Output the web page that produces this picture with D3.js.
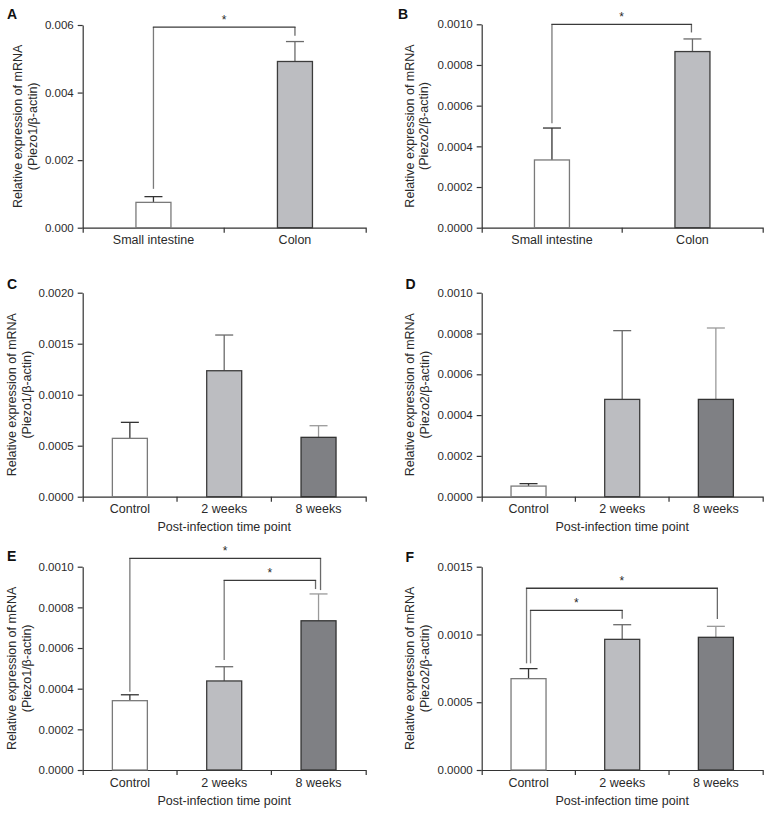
<!DOCTYPE html>
<html>
<head>
<meta charset="utf-8">
<script src="https://cdn.jsdelivr.net/npm/d3@7"></script>
<style>
  html, body { margin: 0; padding: 0; background: #fff; }
  svg { display: block; }
  text { font-family: "Liberation Sans", Arial, Helvetica, sans-serif; fill: #2a2a2a; }
</style>
</head>
<body>
<svg id="chart" width="770" height="816"></svg>
<script>
// ---------- DATA ----------
const tissueCategories = ["Small intestine", "Colon"];
const timeCategories = ["Control", "2 weeks", "8 weeks"];

const meanA = [0.00075, 0.00492];
const semA  = [0.00017, 0.00059];
const meanB = [0.000333, 0.000866];
const semB  = [0.000157, 0.000062];
const meanC = [0.000572, 0.001235, 0.000582];
const semC  = [0.000157, 0.00035, 0.000114];
const meanD = [0.000052, 0.000477, 0.000477];
const semD  = [0.000012, 0.000337, 0.00035];
const meanE = [0.000341, 0.000438, 0.000734];
const semE  = [0.000029, 0.00007, 0.000132];
const meanF = [0.000674, 0.000964, 0.000979];
const semF  = [0.000074, 0.000108, 0.000081];

const ticksA = [0, 0.002, 0.004, 0.006];
const ticksB = [0, 0.0002, 0.0004, 0.0006, 0.0008, 0.0010];
const ticksC = [0, 0.0005, 0.0010, 0.0015, 0.0020];
const ticksD = [0, 0.0002, 0.0004, 0.0006, 0.0008, 0.0010];
const ticksE = [0, 0.0002, 0.0004, 0.0006, 0.0008, 0.0010];
const ticksF = [0, 0.0005, 0.0010, 0.0015];

const formatA = ".3f";
const formatOther = ".4f";

const yTitlePiezo1 = ["Relative expression of mRNA", "(Piezo1/β-actin)"];
const yTitlePiezo2 = ["Relative expression of mRNA", "(Piezo2/β-actin)"];
const xTitleTime = "Post-infection time point";

// significance brackets: from/to category index, y = bracket level, yFrom/yTo = leg ends (data units)
const bracketsA = [{ from: 0, to: 1, y: 0.00594, yFrom: 0.00115, yTo: 0.00568 }];
const bracketsB = [{ from: 0, to: 1, y: 0.00100, yFrom: 0.000513, yTo: 0.00096 }];
const bracketsE = [
  { from: 0, to: 2, y: 0.001041, yFrom: 0.000385, yTo: 0.000885 },
  { from: 1, to: 2, y: 0.000933, yFrom: 0.000541, yTo: 0.00089 }
];
const bracketsF = [
  { from: 0, to: 2, y: 0.001341, yFrom: 0.000787, yTo: 0.001114 },
  { from: 0, to: 1, y: 0.001178, yFrom: 0.000787, yTo: 0.001116 }
];

// ---------- STYLE / LAYOUT ----------
const fills = ["#ffffff", "#bcbdc1", "#7f8084"];
const barStrokes = ["#7a7a7a", "#3c3c3c", "#333333"];
const errStrokes = ["#333333", "#6a6a6a", "#9a9a9a"];

const panels = [
  { letter: "A", lx: 7, ly: 19, left: 82.7, right: 365.7, top: 25, bottom: 227.7,
    cats: tissueCategories, mean: meanA, sem: semA, ticks: ticksA, fmt: formatA,
    ytitle: yTitlePiezo1, titleOff: 46, xtitle: null, brackets: bracketsA,
    legDx: [[0, 0]] },
  { letter: "B", lx: 398, ly: 18.5, left: 481.7, right: 762.7, top: 24.3, bottom: 227.7,
    cats: tissueCategories, mean: meanB, sem: semB, ticks: ticksB, fmt: formatOther,
    ytitle: yTitlePiezo2, titleOff: 53.5, xtitle: null, brackets: bracketsB,
    legDx: [[0, -1]] },
  { letter: "C", lx: 7, ly: 288.5, left: 82.7, right: 365.7, top: 292.7, bottom: 496.7,
    cats: timeCategories, mean: meanC, sem: semC, ticks: ticksC, fmt: formatOther,
    ytitle: yTitlePiezo1, titleOff: 52, xtitle: xTitleTime, brackets: [], legDx: [] },
  { letter: "D", lx: 405.5, ly: 288.5, left: 481.7, right: 762.7, top: 292.7, bottom: 496.7,
    cats: timeCategories, mean: meanD, sem: semD, ticks: ticksD, fmt: formatOther,
    ytitle: yTitlePiezo2, titleOff: 53, xtitle: xTitleTime, brackets: [], legDx: [] },
  { letter: "E", lx: 7, ly: 561, left: 82.7, right: 365.7, top: 566.7, bottom: 770,
    cats: timeCategories, mean: meanE, sem: semE, ticks: ticksE, fmt: formatOther,
    ytitle: yTitlePiezo1, titleOff: 52, xtitle: xTitleTime, brackets: bracketsE,
    legDx: [[0, 2], [0, -3]] },
  { letter: "F", lx: 405.5, ly: 561.5, left: 481.7, right: 762.7, top: 566.7, bottom: 770,
    cats: timeCategories, mean: meanF, sem: semF, ticks: ticksF, fmt: formatOther,
    ytitle: yTitlePiezo2, titleOff: 53, xtitle: xTitleTime, brackets: bracketsF,
    legDx: [[-2, 1.5], [2, 0]] }
];

const BAR_W = 35;
const CAP_W = 18;
const AXIS_COLOR = "#333";

const svg = d3.select("#chart");
svg.append("rect").attr("width", 770).attr("height", 816).attr("fill", "#fff");

panels.forEach(p => {
  const g = svg.append("g");
  const x = d3.scaleBand().domain(p.cats).range([p.left, p.right]).paddingInner(0).paddingOuter(0);
  const y = d3.scaleLinear().domain([0, d3.max(p.ticks)]).range([p.bottom, p.top]);
  const cx = c => x(c) + x.bandwidth() / 2;

  // panel letter
  g.append("text").attr("x", p.lx).attr("y", p.ly)
    .attr("font-size", 14).attr("font-weight", "bold").attr("fill", "#111")
    .style("fill", "#111").text(p.letter);

  // y axis
  const yAxis = g.append("g").attr("transform", `translate(${p.left},0)`)
    .call(d3.axisLeft(y).tickValues(p.ticks).tickFormat(d3.format(p.fmt))
      .tickSize(5).tickSizeOuter(0).tickPadding(4));
  yAxis.select(".domain").attr("stroke", AXIS_COLOR).attr("stroke-width", 1.2);
  yAxis.selectAll(".tick line").attr("stroke", AXIS_COLOR).attr("stroke-width", 1.2);
  yAxis.selectAll(".tick text").attr("font-size", 11.5).attr("font-family", null).style("fill", "#2a2a2a");

  // x axis
  const xAxis = g.append("g").attr("transform", `translate(0,${p.bottom})`)
    .call(d3.axisBottom(x).tickSizeInner(0).tickSizeOuter(5).tickPadding(0));
  xAxis.select(".domain").attr("stroke", AXIS_COLOR).attr("stroke-width", 1.2);
  xAxis.selectAll(".tick line").remove();
  xAxis.selectAll(".tick text").attr("font-size", 12.5).attr("y", 16.5).attr("dy", null)
    .attr("font-family", null).style("fill", "#2a2a2a");
  // boundary ticks between categories
  xAxis.selectAll("line.bnd").data(p.cats.slice(1)).enter().append("line")
    .attr("class", "bnd")
    .attr("x1", d => x(d)).attr("x2", d => x(d))
    .attr("y1", 0).attr("y2", 5)
    .attr("stroke", AXIS_COLOR).attr("stroke-width", 1.2);

  // y title
  const midY = (p.top + p.bottom) / 2;
  const yt = g.append("text")
    .attr("transform", `translate(${p.left - p.titleOff},${midY}) rotate(-90)`)
    .attr("text-anchor", "middle").attr("font-size", 12.5);
  p.ytitle.forEach((line, i) => {
    yt.append("tspan").attr("x", 0).attr("y", (i - 1) * 14.5).text(line);
  });

  // x title
  if (p.xtitle) {
    g.append("text").attr("x", (p.left + p.right) / 2).attr("y", p.bottom + 34.5)
      .attr("text-anchor", "middle").attr("font-size", 12.5).text(p.xtitle);
  }

  const rows = p.cats.map((c, i) => ({ c, i, m: p.mean[i], s: p.sem[i] }));

  // error bars (drawn first so bar outline sits over the base)
  const eb = g.selectAll("g.err").data(rows).enter().append("g").attr("class", "err");
  eb.append("line")
    .attr("x1", d => cx(d.c)).attr("x2", d => cx(d.c))
    .attr("y1", d => y(d.m)).attr("y2", d => y(d.m + d.s))
    .attr("stroke", d => errStrokes[d.i]).attr("stroke-width", 1.3);
  eb.append("line")
    .attr("x1", d => cx(d.c) - CAP_W / 2).attr("x2", d => cx(d.c) + CAP_W / 2)
    .attr("y1", d => y(d.m + d.s)).attr("y2", d => y(d.m + d.s))
    .attr("stroke", d => errStrokes[d.i]).attr("stroke-width", 1.3);

  // bars
  g.selectAll("rect.bar").data(rows).enter().append("rect")
    .attr("class", "bar")
    .attr("x", d => cx(d.c) - BAR_W / 2)
    .attr("width", BAR_W)
    .attr("y", d => y(d.m))
    .attr("height", d => y(0) - y(d.m))
    .attr("fill", d => fills[d.i])
    .attr("stroke", d => barStrokes[d.i])
    .attr("stroke-width", 1.3);

  // significance brackets
  p.brackets.forEach((b, k) => {
    const dx = p.legDx[k] || [0, 0];
    const x1 = cx(p.cats[b.from]) + dx[0];
    const x2 = cx(p.cats[b.to]) + dx[1];
    const yb = y(b.y);
    g.append("line").attr("x1", x1).attr("x2", x1).attr("y1", y(b.yFrom)).attr("y2", yb)
      .attr("stroke", "#7a7a7a").attr("stroke-width", 1.3);
    g.append("line").attr("x1", x2).attr("x2", x2).attr("y1", y(b.yTo)).attr("y2", yb)
      .attr("stroke", "#6a6a6a").attr("stroke-width", 1.3);
    g.append("line").attr("x1", x1 - 0.6).attr("x2", x2 + 0.6).attr("y1", yb).attr("y2", yb)
      .attr("stroke", "#3a3a3a").attr("stroke-width", 1.3);
    g.append("text").attr("x", (x1 + x2) / 2).attr("y", yb - 3.5)
      .attr("text-anchor", "middle").attr("font-size", 12).text("*");
  });
});
</script>
</body>
</html>
